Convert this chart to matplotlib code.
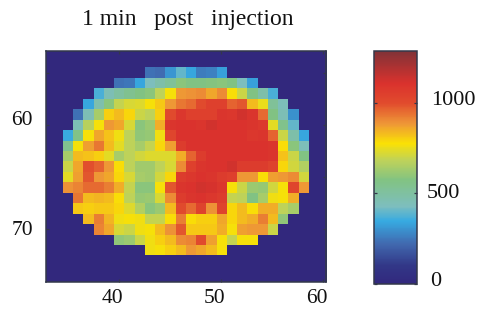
import numpy as np
import matplotlib
matplotlib.use("Agg")
import matplotlib.pyplot as plt
from matplotlib.colors import LinearSegmentedColormap, Normalize
from matplotlib.transforms import ScaledTranslation

plt.rcParams['font.family'] = ['Liberation Serif', 'DejaVu Serif']

title = "1 min   post   injection"
first_col = 32
last_col = 61
first_row = 53
last_row = 75
vmin, vmax = 0, 1285
cbar_ticks = [0, 500, 1000]
cbar_labels = ["0", "500", "1000"]
x_ticks = [40, 50, 60]
y_ticks = [55, 60, 65, 70]
y_labels = ["", "60", "", "70"]

# row: starting column, then values
row_55 = (43, [240, 230, 310, 400, 340, 260, 270, 330])
row_56 = (40, [240, 250, 340, 430, 480, 520, 590, 570, 570, 580, 590, 570, 430, 330])
row_57 = (38, [370, 450, 500, 540, 570, 590, 680, 770, 880, 890, 900, 860, 900, 780, 700, 570, 480, 370])
row_58 = (37, [340, 470, 590, 690, 720, 730, 770, 810, 880, 930, 950, 1000, 1040, 1040, 960, 980, 830, 750, 520, 440])
row_59 = (36, [240, 450, 640, 800, 830, 790, 700, 680, 800, 1000, 1080, 1040, 1040, 1040, 1090, 1080, 1120, 1090, 950, 570, 450, 300])
row_60 = (36, [450, 670, 770, 880, 860, 720, 590, 620, 850, 1090, 1100, 1100, 1090, 1120, 1100, 1100, 1100, 1090, 1070, 740, 550, 400])
row_61 = (35, [350, 560, 770, 860, 820, 760, 680, 600, 610, 760, 1020, 1100, 1100, 1100, 1100, 1100, 1100, 1100, 1080, 1090, 960, 700, 480, 340])
row_62 = (35, [540, 770, 870, 930, 830, 740, 680, 640, 690, 790, 870, 1060, 1100, 1100, 1100, 1100, 1100, 1100, 1100, 1100, 1090, 780, 590, 440])
row_63 = (35, [640, 830, 820, 800, 740, 640, 680, 710, 730, 730, 730, 850, 960, 1060, 1100, 1100, 1100, 1100, 1100, 1100, 1090, 820, 700, 570])
row_64 = (35, [700, 860, 990, 960, 880, 780, 680, 630, 630, 680, 720, 900, 1040, 1090, 1100, 1100, 1120, 1060, 1060, 1060, 1030, 790, 710, 660])
row_65 = (35, [740, 870, 980, 880, 860, 790, 720, 640, 630, 710, 790, 1060, 1080, 1100, 1090, 1060, 1040, 880, 880, 780, 870, 880, 900, 710])
row_66 = (35, [890, 910, 950, 950, 920, 850, 690, 590, 590, 770, 980, 1090, 1100, 1120, 1110, 1080, 770, 700, 620, 610, 710, 770, 1020, 880])
row_67 = (36, [930, 830, 840, 830, 780, 680, 610, 620, 720, 900, 1060, 1090, 1100, 1080, 1060, 690, 680, 570, 640, 760, 770, 850])
row_68 = (36, [810, 800, 810, 810, 790, 730, 660, 590, 620, 830, 1000, 950, 1030, 890, 1030, 790, 830, 780, 850, 850, 680, 640])
row_69 = (37, [830, 920, 840, 760, 770, 760, 690, 690, 780, 920, 780, 800, 800, 860, 790, 830, 850, 920, 830, 600])
row_70 = (38, [910, 860, 720, 700, 760, 770, 830, 890, 980, 810, 810, 810, 850, 770, 870, 880, 880, 700])
row_71 = (40, [600, 620, 700, 760, 800, 830, 900, 910, 1000, 870, 770, 690, 770, 770])
row_72 = (43, [760, 770, 800, 830, 880, 860, 830, 770])

rows = {55: row_55, 56: row_56, 57: row_57, 58: row_58, 59: row_59, 60: row_60,
        61: row_61, 62: row_62, 63: row_63, 64: row_64, 65: row_65, 66: row_66,
        67: row_67, 68: row_68, 69: row_69, 70: row_70, 71: row_71, 72: row_72}

grid = np.zeros((last_row - first_row + 1, last_col - first_col + 1))
for r, (start, vals) in rows.items():
    grid[r - first_row, start - first_col:start - first_col + len(vals)] = vals

anchors = [(0, (50, 40, 125)), (100, (50, 55, 135)), (220, (65, 105, 175)),
           (345, (55, 170, 225)), (428, (125, 190, 190)), (574, (130, 195, 130)),
           (680, (190, 210, 90)), (776, (250, 225, 5)), (886, (238, 150, 55)),
           (1000, (225, 75, 45)), (1107, (218, 50, 45)), (1285, (130, 50, 55))]
cmap = LinearSegmentedColormap.from_list(
    "soft_jet", [(v / vmax, tuple(c / 255 for c in col)) for v, col in anchors], N=256)
norm = Normalize(vmin, vmax)

W, H = 480, 326
fig = plt.figure(figsize=(W / 100, H / 100), dpi=100)


def box(l, t, r, b):
    return [l / W, 1 - b / H, (r - l) / W, (b - t) / H]


spine_col = "#33384a"
ax = fig.add_axes(box(45.5, 51, 326, 282))
im = ax.imshow(grid, cmap=cmap, norm=norm, aspect="auto", interpolation="nearest",
               extent=(first_col - .5, last_col + .5, last_row + .5, first_row - .5))
ax.set_xlim(32.85, 60.26)
ax.set_ylim(75.04, 52.92)
ax.set_xticks(x_ticks)
ax.set_yticks(y_ticks)
ax.set_yticklabels(y_labels)
ax.tick_params(direction="in", length=2.5, width=0.9, color=spine_col, top=True, right=True,
               labelsize=15.5, labelcolor="#111111")
ax.tick_params(axis="x", pad=5)
ax.tick_params(axis="y", pad=9)
for s in ax.spines.values():
    s.set_color(spine_col)
    s.set_linewidth(1.1)
for lab in ax.get_xticklabels():
    lab.set_transform(lab.get_transform() + ScaledTranslation(-6.5 / 100, 0, fig.dpi_scale_trans))
for lab, dy in zip(ax.get_yticklabels(), [0, 7, 0, 1]):
    lab.set_transform(lab.get_transform() + ScaledTranslation(0, dy / 100, fig.dpi_scale_trans))

cax = fig.add_axes(box(374, 51, 417, 284))
cb = fig.colorbar(im, cax=cax, ticks=cbar_ticks)
cb.ax.set_yticklabels(cbar_labels)
cb.outline.set_edgecolor(spine_col)
cb.outline.set_linewidth(1.1)
cax.tick_params(direction="in", length=2.5, width=0.9, color=spine_col, left=True, right=True,
                labelsize=16, labelcolor="#111111", pad=7)
for lab, dx, dy in zip(cax.get_yticklabels(), [3, 0, 4], [5, 2, 5]):
    lab.set_transform(lab.get_transform() + ScaledTranslation(dx / 100, dy / 100, fig.dpi_scale_trans))

fig.text(188 / W, 1 - 19 / H, title, ha="center", va="center", fontsize=17, color="#111111")
fig.savefig("out.png", dpi=100)
